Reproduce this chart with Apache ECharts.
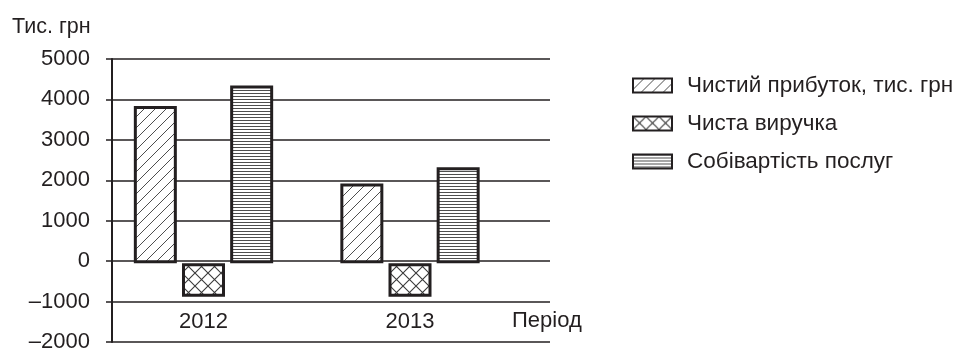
<!DOCTYPE html>
<html>
<head>
<meta charset="utf-8">
<script src="https://cdn.jsdelivr.net/npm/echarts@6/dist/echarts.min.js"></script>
<style>
  html, body { margin: 0; padding: 0; background: #fff; }
  #chart { width: 960px; height: 353px; }
</style>
</head>
<body>
<div id="chart"></div>
<script>
// Periods and series (thousand UAH)
const periods = ['2012', '2013'];
const seriesNames = ['Чистий прибуток, тис. грн', 'Чиста виручка', 'Собівартість послуг'];
const netProfit = [3850, 1950];
const netRevenue = [-820, -820];
const serviceCost = [4350, 2350];
const yTicks = { min: -2000, max: 5000, step: 1000 };

const INK = '#231f20';
const FONT = '"Liberation Sans", Arial, sans-serif';

// Hatch fills drawn on small tiles
function tile(w, h, lw, draw) {
  const c = document.createElement('canvas');
  c.width = w; c.height = h;
  const g = c.getContext('2d');
  g.fillStyle = '#fff';
  g.fillRect(0, 0, w, h);
  g.strokeStyle = '#3a3a3a';
  g.lineWidth = lw;
  draw(g, w, h);
  return { image: c, repeat: 'repeat' };
}
const diagFill = tile(11, 11, 0.9, (g, w, h) => {
  g.beginPath();
  g.moveTo(-1, h + 1); g.lineTo(w + 1, -1);
  g.moveTo(-1, 1); g.lineTo(1, -1);
  g.moveTo(w - 1, h + 1); g.lineTo(w + 1, h - 1);
  g.stroke();
});
const crossFill = tile(13, 13, 1.1, (g, w, h) => {
  g.beginPath();
  g.moveTo(0, h); g.lineTo(w, 0);
  g.moveTo(0, 0); g.lineTo(w, h);
  g.stroke();
});
const stripeFill = tile(4, 3.4, 0.9, (g, w, h) => {
  g.beginPath();
  g.moveTo(0, 0.5); g.lineTo(w, 0.5);
  g.stroke();
});

const chart = echarts.init(document.getElementById('chart'), null, { renderer: 'canvas' });

const barStyle = (fill) => ({ color: fill, borderColor: INK, borderWidth: 3 });

chart.setOption({
  animation: false,
  textStyle: { fontFamily: FONT, color: INK },
  title: {
    text: 'Тис. грн', left: 7, top: 11,
    textStyle: { fontFamily: FONT, fontSize: 21.5, fontWeight: 'normal', color: INK }
  },
  legend: {
    orient: 'vertical', left: 627, top: 69,
    icon: 'rect',
    itemWidth: 39, itemHeight: 14, itemGap: 15,
    data: seriesNames,
    itemStyle: { borderWidth: 2, borderColor: INK },
    textStyle: { fontFamily: FONT, fontSize: 22.5, color: INK, padding: [0, 0, 0, 10] }
  },
  grid: [
    { left: 112, right: 410, top: 59, bottom: 8 },
    { left: 100.25, right: 446.75, top: 59, bottom: 8 }
  ],
  xAxis: [
    { type: 'category', gridIndex: 0, data: periods, show: false },
    {
      type: 'category', gridIndex: 1, data: periods,
      axisLine: { show: false }, axisTick: { show: false },
      axisLabel: { inside: true, margin: 12, fontSize: 22, color: INK, fontFamily: FONT }
    }
  ],
  yAxis: [
    {
      type: 'value', gridIndex: 0,
      min: yTicks.min, max: yTicks.max, interval: yTicks.step,
      axisLine: { show: true, lineStyle: { color: INK, width: 2 } },
      axisTick: { show: true, length: 6, lineStyle: { color: INK, width: 1.5 } },
      splitLine: { show: true, lineStyle: { color: INK, width: 1.5 } },
      axisLabel: {
        margin: 22, fontSize: 22, color: INK, fontFamily: FONT,
        formatter: (v) => (v < 0 ? '\u2013' + Math.abs(v) : String(v))
      }
    },
    {
      type: 'value', gridIndex: 1, show: false,
      min: yTicks.min, max: yTicks.max, interval: yTicks.step
    }
  ],
  graphic: [{
    type: 'text', left: 512, top: 310,
    style: { text: 'Період', font: '22px ' + FONT, fill: INK }
  }],
  series: [
    { name: seriesNames[0], type: 'bar', xAxisIndex: 1, yAxisIndex: 1, data: netProfit,
      barWidth: 43, barGap: '12%', itemStyle: barStyle(diagFill) },
    { name: seriesNames[1], type: 'bar', xAxisIndex: 1, yAxisIndex: 1, data: netRevenue,
      barWidth: 43, barGap: '12%', itemStyle: barStyle(crossFill) },
    { name: seriesNames[2], type: 'bar', xAxisIndex: 1, yAxisIndex: 1, data: serviceCost,
      barWidth: 43, barGap: '12%', itemStyle: barStyle(stripeFill) }
  ]
});
</script>
</body>
</html>
